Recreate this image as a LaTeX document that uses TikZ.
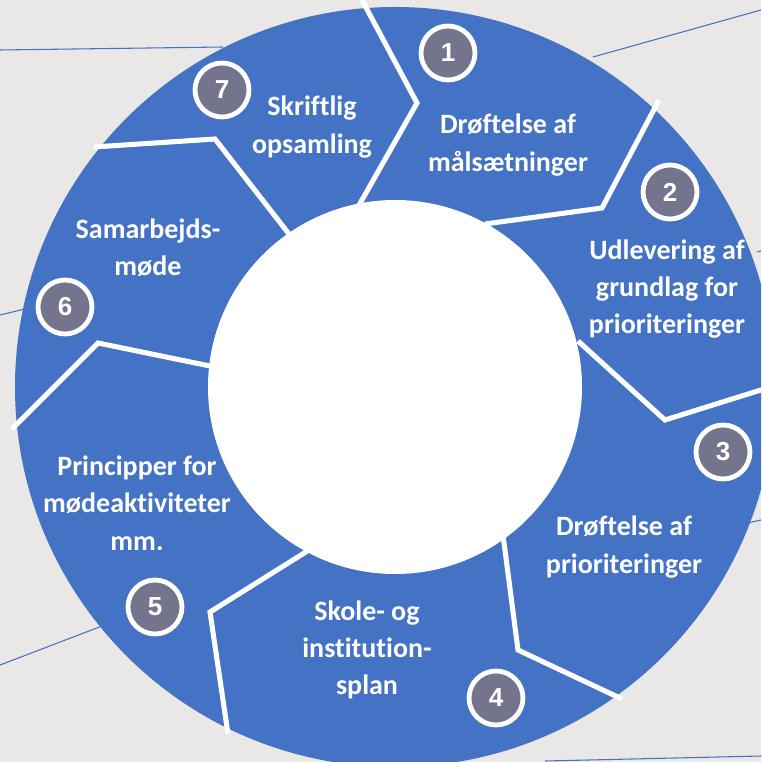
\documentclass[tikz,border=0pt]{standalone}
\usepackage{fontspec}
\setmainfont{Carlito}[Ligatures=NoCommon]
\newfontfamily\numfont{Liberation Sans}
\definecolor{ringblue}{RGB}{68,114,196}
\definecolor{paper}{RGB}{233,232,230}
\definecolor{badgegray}{RGB}{116,116,140}

\begin{document}
\begin{tikzpicture}[x=0.75pt, y=-0.75pt,
  stage/.style={text=white, align=center, font=\fontsize{21}{28}\selectfont\bfseries},
  badge/.style={circle, draw=white, line width=3.6pt, fill=badgegray, text=white,
    minimum size=40.5pt, inner sep=0pt, font=\numfont\fontsize{19.5}{19.5}\selectfont\bfseries},
  sep/.style={draw=white, line width=3.8pt},
  bgline/.style={draw=ringblue, line width=0.8pt}]
\useasboundingbox (0,0) rectangle (761,762);
\fill[paper] (0,0) rectangle (761,762);
\begin{scope}
\clip (0,0) rectangle (761,762);
% thin lines behind the ring
\draw[bgline] (0,50) -- (223,47);
\draw[bgline] (593,57) -- (761,10);
\draw[bgline] (757,252) -- (761,251);
\draw[bgline] (748,523) -- (761,520);
\draw[bgline] (0,315) -- (25,309);
\draw[bgline] (0,665) -- (102,626);
\draw[bgline] (545,761) -- (761,756);
% ring
\fill[ringblue] (395,387) circle[radius=380];
\fill[white] (395,387) circle[radius=187];
% chevron borders
\draw[sep] (362,0) -- (417,103) -- (358,207);
\draw[sep] (659,100) -- (602,208) -- (485,224);
\draw[sep] (578,341) -- (665,420) -- (780,384);
\draw[sep] (503,535) -- (518,650) -- (622,699);
\draw[sep] (309,550) -- (210,612) -- (228,734);
\draw[sep] (12,429) -- (98,343) -- (210,366);
\draw[sep] (94,147) -- (215,139) -- (289,234);
\end{scope}

\node[stage] (s1) at (508,145) {Drøftelse af\\målsætninger};
\node[stage] (s2) at (667,289) {Udlevering af\\grundlag for\\prioriteringer};
\node[stage] (s3) at (624,547) {Drøftelse af\\prioriteringer};
\node[stage] (s4) at (367,650) {Skole- og\\institution-\\splan};
\node[stage] (s5) at (137,503) {Principper for\\mødeaktiviteter\\mm.};
\node[stage] (s6) at (148,248) {Samarbejds-\\møde};
\node[stage] (s7) at (312,127) {Skriftlig\\opsamling};

\node[badge] (b1) at (448,53) {1};
\node[badge] (b2) at (670,192) {2};
\node[badge] (b3) at (723,452) {3};
\node[badge] (b4) at (496,698) {4};
\node[badge] (b5) at (155,607) {5};
\node[badge] (b6) at (65,307) {6};
\node[badge] (b7) at (222,90) {7};
\end{tikzpicture}
\end{document}
